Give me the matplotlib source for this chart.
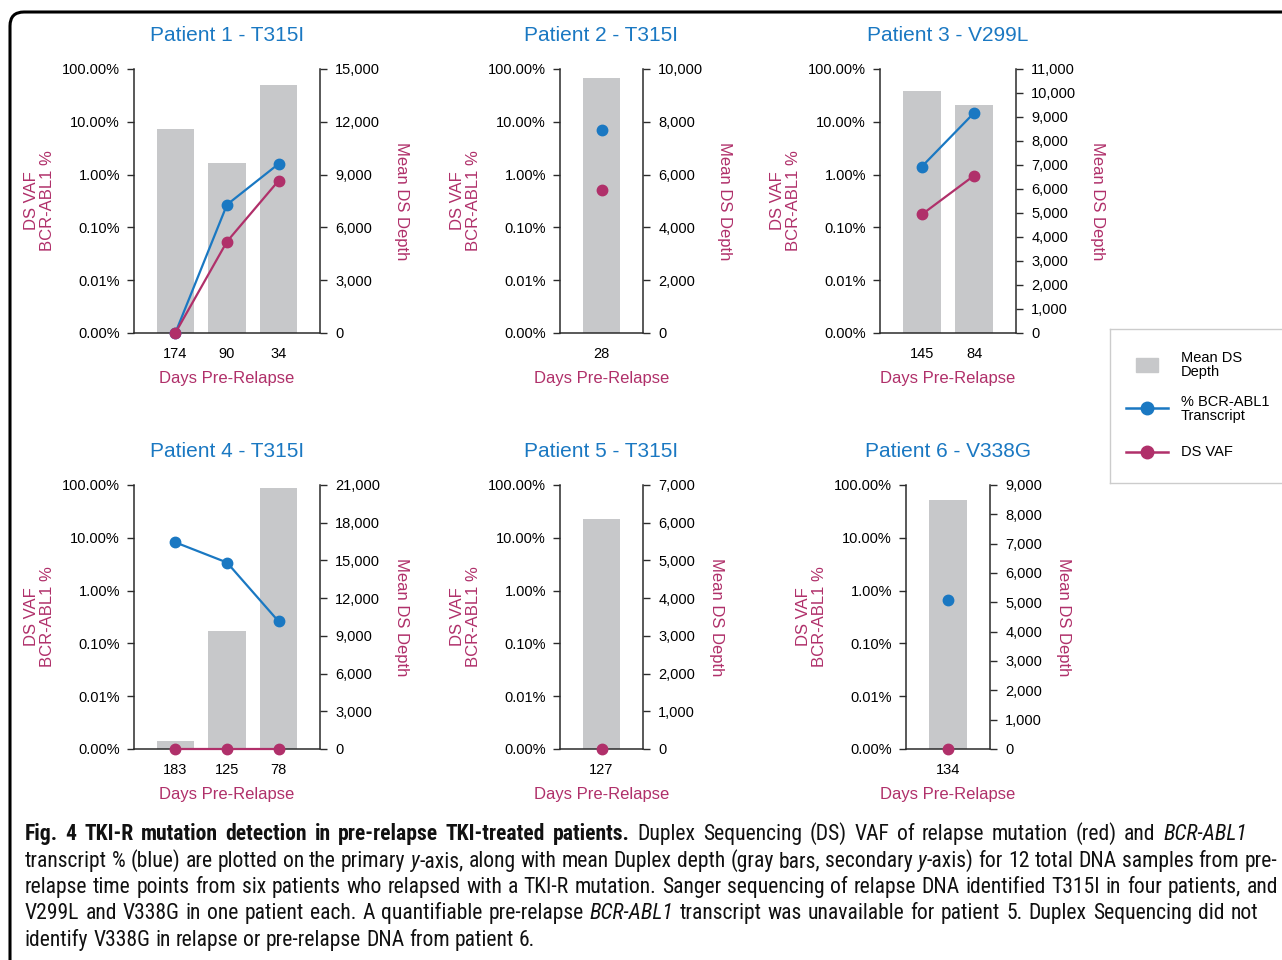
import matplotlib
matplotlib.use("Agg")
import matplotlib.pyplot as plt
import numpy as np
from matplotlib import font_manager
from matplotlib.font_manager import FontProperties
from matplotlib.patches import FancyBboxPatch, Rectangle
from matplotlib.transforms import IdentityTransform
from matplotlib.ticker import FixedLocator, NullLocator, FuncFormatter

# ---- data ----
titles = ["Patient 1 - T315I", "Patient 2 - T315I", "Patient 3 - V299L",
          "Patient 4 - T315I", "Patient 5 - T315I", "Patient 6 - V338G"]
days = [["174", "90", "34"], ["28"], ["145", "84"],
        ["183", "125", "78"], ["127"], ["134"]]
# mean DS depth (gray bars, right axis)
depth = [[11600, 9650, 14100], [9650], [10100, 9500],
         [650, 9400, 20750], [6100], [8500]]
# % BCR-ABL1 transcript (blue), None = not available
bcr_pct = [[0, 0.27, 1.6], [7.1], [1.42, 14.8],
           [8.2, 3.4, 0.26], [None], [0.65]]
# DS VAF % (red)
vaf_pct = [[0, 0.054, 0.77], [0.5], [0.176, 0.96],
           [0, 0, 0], [0], [0]]
depth_max = [15000, 10000, 11000, 21000, 7000, 9000]
depth_step = [3000, 2000, 1000, 3000, 1000, 1000]
pct_ticks = [1e-3, 1e-2, 1e-1, 1, 10, 100]
pct_labels = ["0.00%", "0.01%", "0.10%", "1.00%", "10.00%", "100.00%"]

# ---- layout (pixels: left, right, top, bottom) ----
W, H = 1282, 960
boxes = [(134, 320, 69, 333), (560, 643, 69, 333), (880, 1016, 69, 333),
         (134, 320, 485, 749), (560, 643, 485, 749), (906, 990, 485, 749)]
FLOOR = 1e-3  # zero is drawn on the bottom line

BLUE = "#1a78c2"
RED = "#b0306a"
GRAY = "#c7c8ca"
AXC = "#2b2b2b"


def pick_font(names):
    avail = {f.name for f in font_manager.fontManager.ttflist}
    for n in names:
        if n in avail:
            return n
    return "DejaVu Sans"


SANS = pick_font(["Liberation Sans", "Arial"])
NARROW = pick_font(["Liberation Sans Narrow", "Roboto Condensed", SANS])
plt.rcParams["font.family"] = [SANS, "DejaVu Sans"]

fig = plt.figure(figsize=(W / 100, H / 100), dpi=100)


def fx(px):
    return px / W


def fy(py):
    return 1 - py / H


comma = FuncFormatter(lambda v, p: f"{int(v):,}")

for i in range(6):
    l, r, t, b = boxes[i]
    ax = fig.add_axes([fx(l), fy(b), (r - l) / W, (b - t) / H])
    ax2 = ax.twinx()
    ax.set_zorder(ax2.get_zorder() + 1)
    ax.patch.set_visible(False)

    n = len(days[i])
    x = np.arange(n)
    ax2.bar(x, depth[i], width=0.72, color=GRAY, zorder=1)
    ax2.set_ylim(0, depth_max[i])
    ax2.set_yticks(np.arange(0, depth_max[i] + 1, depth_step[i]))
    ax2.yaxis.set_major_formatter(comma)
    ax2.set_ylabel("Mean DS Depth", color=RED, fontsize=12, rotation=270,
                   va="bottom", labelpad=10)

    ax.set_yscale("log")
    ax.set_ylim(FLOOR, 100)
    ax.yaxis.set_major_locator(FixedLocator(pct_ticks))
    ax.yaxis.set_minor_locator(NullLocator())
    ax.set_yticklabels(pct_labels)
    ax.set_xlim(-0.8, n - 0.2)
    ax.set_xticks(x, days[i])

    blue = np.array([np.nan if v is None else v for v in bcr_pct[i]], float)
    red = np.array(vaf_pct[i], float)
    if not np.all(np.isnan(blue)):
        ax.plot(x, np.maximum(blue, FLOOR), color=BLUE, lw=1.6, marker="o",
                ms=7.5, clip_on=False, zorder=3)
    ax.plot(x, np.maximum(red, FLOOR), color=RED, lw=1.6, marker="o",
            ms=7.5, clip_on=False, zorder=4)

    ax.set_title(titles[i], color=BLUE, fontsize=15, pad=20)
    ax.set_xlabel("Days Pre-Relapse", color=RED, fontsize=12, labelpad=7)
    ax.set_ylabel("DS VAF\nBCR-ABL1 %", color=RED, fontsize=12,
                  labelpad=5, linespacing=1.1)

    for a in (ax, ax2):
        for s in a.spines.values():
            s.set_color(AXC)
            s.set_linewidth(1.1)
    ax.spines["top"].set_visible(False)
    ax.spines["right"].set_visible(False)
    for s in ("top", "left", "bottom"):
        ax2.spines[s].set_visible(False)
    ax.tick_params(axis="y", length=5, width=1, color=AXC, labelsize=10.5, pad=5)
    ax.tick_params(axis="x", length=0, labelsize=10.5, pad=10)
    ax2.tick_params(axis="y", length=5, width=1, color=AXC, labelsize=10.5, pad=6)

# ---- legend box ----
lg = fig.add_axes([fx(1110), fy(483), (1300 - 1110) / W, (483 - 329) / H])
lg.set_xlim(1110, 1300)
lg.set_ylim(483, 329)
lg.set_xticks([])
lg.set_yticks([])
for s in lg.spines.values():
    s.set_color("#cccccc")
    s.set_linewidth(1)
lg.add_patch(Rectangle((1136, 358), 22, 14, color=GRAY))
lg.plot([1126, 1147, 1168], [408, 408, 408], color=BLUE, lw=1.8, marker="o",
        ms=9, markevery=[1])
lg.plot([1126, 1147, 1168], [452, 452, 452], color=RED, lw=1.8, marker="o",
        ms=9, markevery=[1])
lg.text(1181, 365, "Mean DS\nDepth", fontsize=10.5, va="center", linespacing=1.0)
lg.text(1181, 409, "% BCR-ABL1\nTranscript", fontsize=10.5, va="center", linespacing=1.0)
lg.text(1181, 452, "DS VAF", fontsize=10.5, va="center")

# ---- outer frame ----
frame = FancyBboxPatch((10, -40), 1330, H - 12 + 40, boxstyle="round,pad=0,rounding_size=14",
                       transform=IdentityTransform(), fill=False, ec="black", lw=2.2)
fig.patches.append(frame)

# ---- caption (justified) ----
cap_lines = [
    [("Fig. 4 TKI-R mutation detection in pre-relapse TKI-treated patients.", "b"),
     (" Duplex Sequencing (DS) VAF of relapse mutation (red) and ", "r"), ("BCR-ABL1", "i")],
    [("transcript % (blue) are plotted on the primary ", "r"), ("y", "i"),
     ("-axis, along with mean Duplex depth (gray bars, secondary ", "r"), ("y", "i"),
     ("-axis) for 12 total DNA samples from pre-", "r")],
    [("relapse time points from six patients who relapsed with a TKI-R mutation. Sanger "
      "sequencing of relapse DNA identified T315I in four patients, and", "r")],
    [("V299L and V338G in one patient each. A quantifiable pre-relapse ", "r"), ("BCR-ABL1", "i"),
     (" transcript was unavailable for patient 5. Duplex Sequencing did not", "r")],
    [("identify V338G in relapse or pre-relapse DNA from patient 6.", "r")],
]
cap_right = [1247, 1277, 1278, 1258, None]
cap_base = [840, 867, 893, 919, 946]
CAP_X = 25
styles = {"r": dict(fontweight="normal", fontstyle="normal"),
          "b": dict(fontweight="bold", fontstyle="normal"),
          "i": dict(fontweight="normal", fontstyle="italic")}
cap_family = [NARROW, "DejaVu Sans"]

renderer = fig.canvas.get_renderer()


def twidth(s, st, size):
    tt = fig.text(0, 0, s, fontsize=size, family=cap_family, **styles[st])
    w = tt.get_window_extent(renderer).width
    tt.remove()
    return w


# pick the caption size so the fullest line fits its width with ordinary spaces
probe = cap_lines[2][0][0]
nat = twidth(probe, "r", 10)
CAP_SIZE = 10 * (cap_right[2] - CAP_X) * 0.985 / nat
CAP_SIZE = min(CAP_SIZE, 16)

space_w = twidth("a a", "r", CAP_SIZE) - twidth("aa", "r", CAP_SIZE)

for runs, right, base in zip(cap_lines, cap_right, cap_base):
    words = [[]]
    for txt, st in runs:
        parts = txt.split(" ")
        for k, p in enumerate(parts):
            if k > 0:
                words.append([])
            if p:
                words[-1].append((p, st))
    words = [w for w in words if w]
    widths = [[twidth(p, st, CAP_SIZE) for p, st in w] for w in words]
    total = sum(sum(w) for w in widths)
    gap = space_w
    if right is not None and len(words) > 1:
        gap = max((right - CAP_X - total) / (len(words) - 1), space_w * 0.6)
    xpos = CAP_X
    for w, ws in zip(words, widths):
        for (p, st), pw in zip(w, ws):
            fig.text(fx(xpos), fy(base), p, fontsize=CAP_SIZE, va="baseline", ha="left",
                     family=cap_family, color="#111111", **styles[st])
            xpos += pw
        xpos += gap

fig.savefig("out.png", dpi=100)
